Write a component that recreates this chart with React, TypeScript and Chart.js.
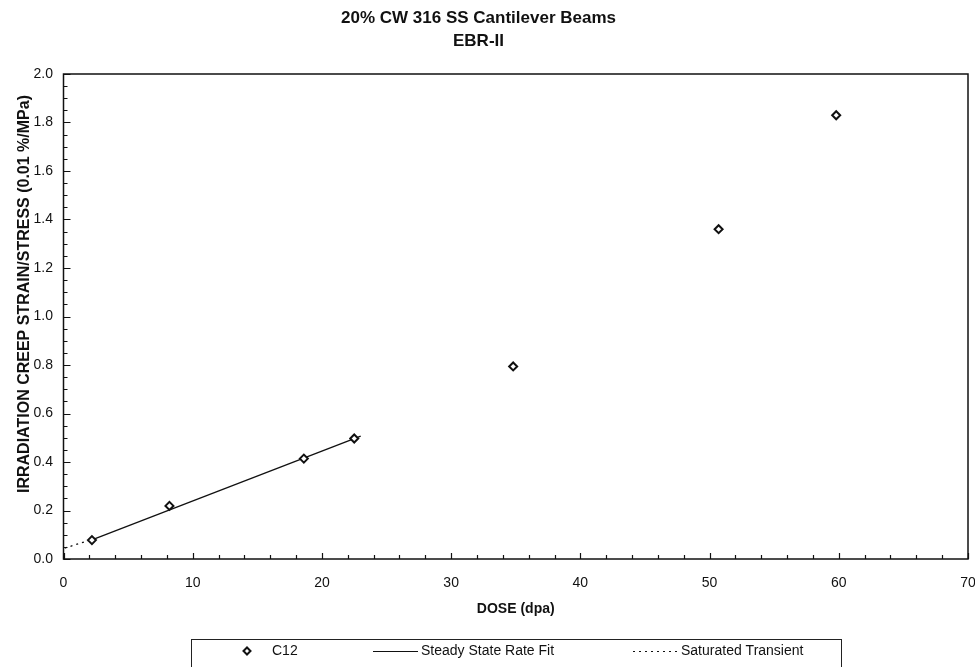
import { useEffect, useRef } from "react";
import { Chart, registerables } from "chart.js";

Chart.register(...registerables);

// ---- data ----
const doseC12 = [2.2, 8.2, 18.6, 22.5, 34.8, 50.7, 59.8];
const creepC12 = [0.078, 0.219, 0.414, 0.497, 0.794, 1.36, 1.83];
const fitDose = [2.2, 23.0];
const fitCreep = [0.079, 0.507];
const transientDose = [0.1, 2.0];
const transientCreep = [0.045, 0.077];

const titleLines = ["20% CW 316 SS Cantilever Beams", "EBR-II"];
const xTitle = "DOSE (dpa)";
const yTitle = "IRRADIATION CREEP STRAIN/STRESS (0.01 %/MPa)";
const legendLabels = ["C12", "Steady State Rate Fit", "Saturated Transient"];

const FONT = "'Liberation Sans', Arial, Helvetica, sans-serif";

const toXY = (xs: number[], ys: number[]) => xs.map((x, i) => ({ x, y: ys[i] }));

const decor = {
  id: "decor",
  afterDraw(chart: any) {
    const { ctx, chartArea: a, scales } = chart;
    const xs = scales.x;
    const ys = scales.y;
    ctx.save();
    // frame
    ctx.strokeStyle = "#111";
    ctx.lineWidth = 1.5;
    ctx.strokeRect(a.left, a.top, a.right - a.left, a.bottom - a.top);
    // inward ticks
    ctx.lineWidth = 1.2;
    ctx.beginPath();
    for (let i = 0; i <= 35; i++) {
      const v = i * 2;
      const px = Math.round(xs.getPixelForValue(v)) + 0.5;
      const len = v % 10 === 0 ? 6 : 4;
      ctx.moveTo(px, a.bottom);
      ctx.lineTo(px, a.bottom - len);
    }
    for (let i = 0; i <= 40; i++) {
      const py = Math.round(ys.getPixelForValue(i * 0.05)) + 0.5;
      const len = i % 4 === 0 ? 7 : 4;
      ctx.moveTo(a.left, py);
      ctx.lineTo(a.left + len, py);
    }
    ctx.stroke();

    ctx.fillStyle = "#111";
    ctx.textBaseline = "middle";
    // title
    ctx.textAlign = "center";
    ctx.font = `bold 17px ${FONT}`;
    ctx.fillText(titleLines[0], 478.5, 18);
    ctx.fillText(titleLines[1], 478.5, 41);
    // axis titles
    ctx.font = `bold 14px ${FONT}`;
    ctx.fillText(xTitle, (a.left + a.right) / 2, 609);
    ctx.save();
    ctx.translate(25, 294);
    ctx.rotate(-Math.PI / 2);
    ctx.font = `bold 16px ${FONT}`;
    ctx.fillText(yTitle, 0, 0);
    ctx.restore();

    // legend box
    ctx.lineWidth = 1;
    ctx.strokeStyle = "#222";
    ctx.strokeRect(191.5, 639.5, 650, 40);
    const ly = 651;
    // diamond
    ctx.lineWidth = 2;
    ctx.fillStyle = "#fff";
    ctx.beginPath();
    ctx.moveTo(247 - 3.5, ly);
    ctx.lineTo(247, ly - 3.5);
    ctx.lineTo(247 + 3.5, ly);
    ctx.lineTo(247, ly + 3.5);
    ctx.closePath();
    ctx.fill();
    ctx.strokeStyle = "#111";
    ctx.stroke();
    // solid line
    ctx.lineWidth = 1.2;
    ctx.beginPath();
    ctx.moveTo(373, ly + 0.5);
    ctx.lineTo(418, ly + 0.5);
    ctx.stroke();
    // dashed line
    ctx.setLineDash([2, 4]);
    ctx.beginPath();
    ctx.moveTo(633, ly + 0.5);
    ctx.lineTo(678, ly + 0.5);
    ctx.stroke();
    ctx.setLineDash([]);
    ctx.fillStyle = "#111";
    ctx.textAlign = "left";
    ctx.font = `14px ${FONT}`;
    ctx.fillText(legendLabels[0], 272, ly);
    ctx.fillText(legendLabels[1], 421, ly);
    ctx.fillText(legendLabels[2], 681, ly);
    ctx.restore();
  },
};

export default function App() {
  const ref = useRef<HTMLCanvasElement | null>(null);
  useEffect(() => {
    if (!ref.current) return;
    const chart = new Chart(ref.current, {
      type: "scatter",
      data: {
        datasets: [
          {
            label: legendLabels[0],
            data: toXY(doseC12, creepC12),
            pointStyle: "rectRot",
            pointRadius: 4,
            pointBorderWidth: 2,
            pointBackgroundColor: "#fff",
            pointBorderColor: "#111",
            showLine: false,
            order: 0,
          },
          {
            label: legendLabels[1],
            data: toXY(fitDose, fitCreep),
            showLine: true,
            borderColor: "#111",
            borderWidth: 1.3,
            pointRadius: 0,
            order: 1,
          },
          {
            label: legendLabels[2],
            data: toXY(transientDose, transientCreep),
            showLine: true,
            borderColor: "#111",
            borderWidth: 1.3,
            borderDash: [2, 4],
            pointRadius: 0,
            order: 2,
          },
        ],
      },
      options: {
        responsive: false,
        animation: false,
        devicePixelRatio: 1,
        layout: { padding: { top: 74, right: 7, left: 0, bottom: 0 } },
        plugins: {
          legend: { display: false },
          title: { display: false },
          tooltip: { enabled: false },
        },
        scales: {
          x: {
            type: "linear",
            min: 0,
            max: 70,
            grid: { display: false },
            border: { display: false },
            ticks: {
              stepSize: 10,
              color: "#111",
              padding: 8,
              maxRotation: 0,
              font: { family: FONT, size: 14 },
            },
            afterFit: (s: any) => {
              s.height = 108;
              s.paddingRight = 0;
              s.paddingLeft = 0;
            },
          },
          y: {
            type: "linear",
            min: 0,
            max: 2,
            grid: { display: false },
            border: { display: false },
            ticks: {
              stepSize: 0.2,
              color: "#111",
              padding: 2.5,
              font: { family: FONT, size: 14 },
              callback: (v: any) => Number(v).toFixed(1),
            },
            afterFit: (s: any) => {
              s.width = 63.5;
            },
          },
        },
      },
      plugins: [decor],
    });
    return () => chart.destroy();
  }, []);
  return (
    <div style={{ position: "fixed", left: 0, top: 0, width: 975, height: 667, background: "#fff" }}>
      <canvas ref={ref} width={975} height={667} style={{ display: "block" }} />
    </div>
  );
}
